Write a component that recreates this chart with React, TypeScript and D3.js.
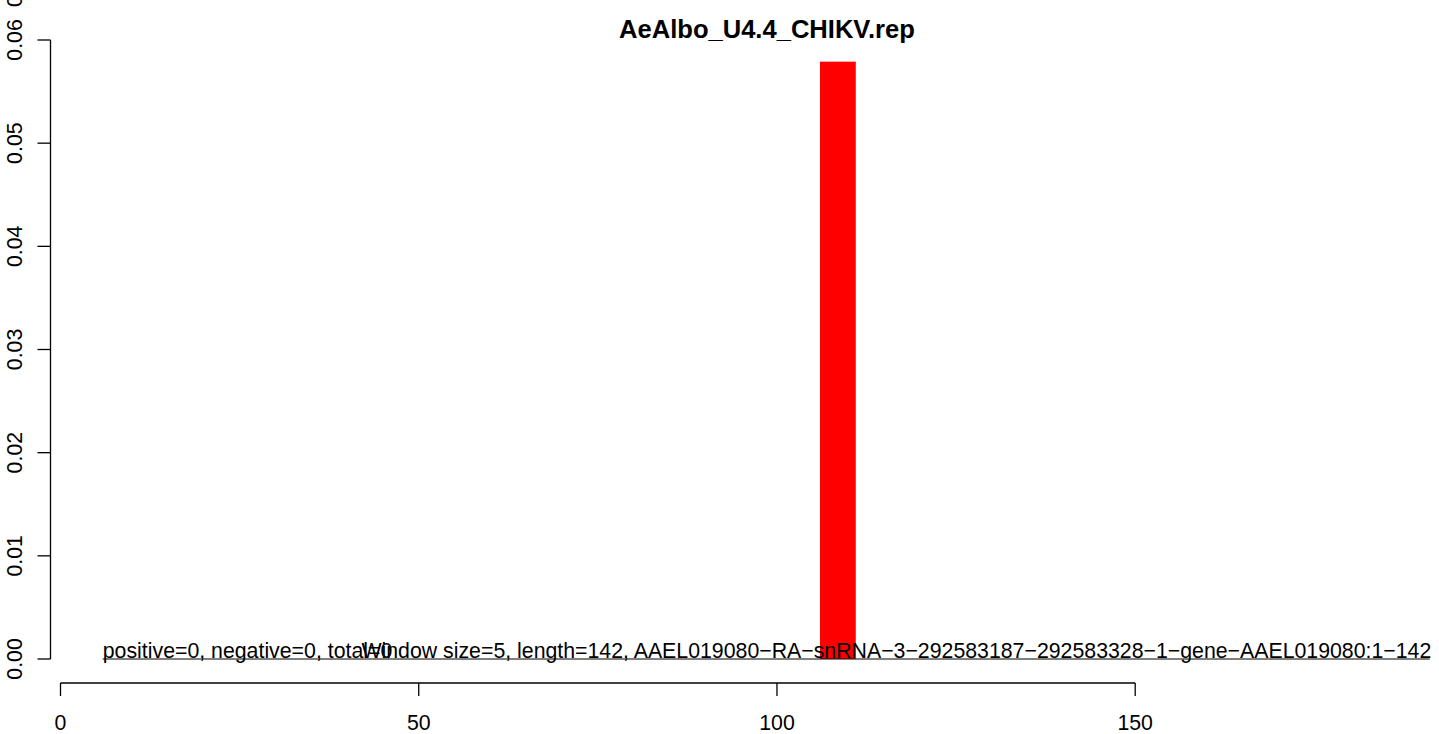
import React from "react";
import * as d3 from "d3";

const title = "AeAlbo_U4.4_CHIKV.rep";
const barStarts = [106];
const barEnds = [111];
const barValues = [0.0579];
const xTicks = [0, 50, 100, 150];
const yTicks = [0, 0.01, 0.02, 0.03, 0.04, 0.05, 0.06];
const yTickLabels = ["0.00", "0.01", "0.02", "0.03", "0.04", "0.05", "0.06"];
const note1 = "positive=0, negative=0, total=0";
const note1X = 5.9;
const note2 = "Window size=5, length=142, AAEL019080\u2212RA\u2212snRNA\u22123\u2212292583187\u2212292583328\u22121\u2212gene\u2212AAEL019080:1\u2212142";
const note2X = 42;
const baseLine = [5.9, 191.1];

export default function App() {
  const W = 1439, H = 734;
  const x = d3.scaleLinear().domain([0, 150]).range([60.5, 1135.2]);
  const y = d3.scaleLinear().domain([0, 0.06]).range([659, 40]);
  const axisX = 50.5;
  const axisY = 683;
  const fs = 21.3;
  const font = "'Liberation Sans', Arial, Helvetica, sans-serif";
  return (
    <svg width={W} height={H} style={{ position: "absolute", left: 0, top: 0, background: "#fff" }} fontFamily={font}>
      <rect width={W} height={H} fill="#fff" />
      <text x={767} y={38} textAnchor="middle" fontWeight="bold" fontSize={fs * 1.2}>{title}</text>
      {barValues.map((v, i) => (
        <rect key={i} x={x(barStarts[i])} y={y(v)} width={x(barEnds[i]) - x(barStarts[i])} height={y(0) - y(v)} fill="#ff0000" />
      ))}
      <line x1={x(baseLine[0])} x2={x(baseLine[1])} y1={y(0)} y2={y(0)} stroke="#000" strokeWidth={1} />
      <text x={x(note1X)} y={y(0) - 1} fontSize={fs}>{note1}</text>
      <text x={x(note2X)} y={y(0) - 1} fontSize={fs}>{note2}</text>
      {/* y axis */}
      <line x1={axisX} x2={axisX} y1={y(0.06)} y2={y(0)} stroke="#000" strokeWidth={1.3} />
      {yTicks.map((t, i) => (
        <g key={i}>
          <line x1={axisX - 13} x2={axisX} y1={y(t)} y2={y(t)} stroke="#000" strokeWidth={1.3} />
          <text transform={`translate(${22},${y(t)}) rotate(-90)`} textAnchor="middle" fontSize={fs}>{yTickLabels[i]}</text>
        </g>
      ))}
      <text transform={`translate(22,1) rotate(-90)`} textAnchor="middle" fontSize={fs}>0</text>
      {/* x axis */}
      <line x1={x(0)} x2={x(150)} y1={axisY} y2={axisY} stroke="#000" strokeWidth={1.3} />
      {xTicks.map((t, i) => (
        <g key={i}>
          <line x1={x(t)} x2={x(t)} y1={axisY} y2={axisY + 13} stroke="#000" strokeWidth={1.3} />
          <text x={x(t)} y={730} textAnchor="middle" fontSize={fs}>{t}</text>
        </g>
      ))}
    </svg>
  );
}
